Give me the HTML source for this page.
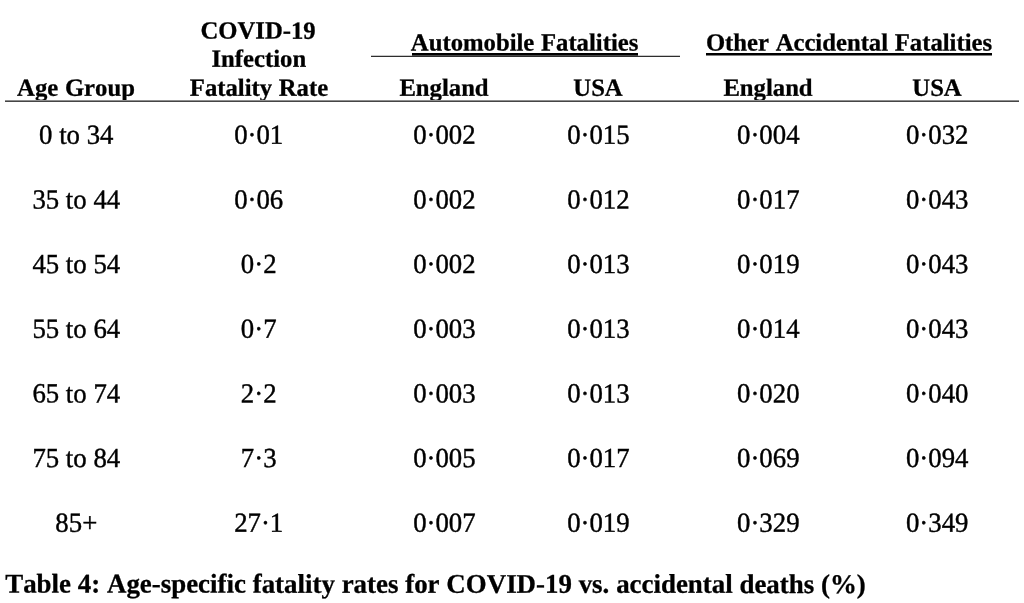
<!DOCTYPE html>
<html lang="en">
<head>
<meta charset="utf-8">
<title>Table 4</title>
<style>
html,body{margin:0;padding:0;background:#fff;}
body{width:1024px;height:603px;position:relative;overflow:hidden;font-family:"Liberation Serif","Times New Roman",Times,serif;color:#000;font-kerning:none;}
.t{position:absolute;left:0;top:0;white-space:nowrap;line-height:1;transform-origin:50% 0;}
.h{font-weight:bold;word-spacing:0.5px;font-size:24.7px;-webkit-text-stroke:0.3px #000;}
.d{font-size:26.8px;-webkit-text-stroke:0.4px #000;}
.ln{position:absolute;height:2px;background:linear-gradient(#8e8e8e 50%,#464646 50%);}
.ln2{position:absolute;height:2px;background:linear-gradient(#c8c8c8 50%,#2d2d2d 50%);}
.ul{position:absolute;height:3px;background:linear-gradient(#000 66.6%,#808080 66.6%);}
.ul.a{background:linear-gradient(#000 66.6%,#484848 66.6%);}
.cap{word-spacing:0.1px;position:absolute;left:0;top:0;white-space:nowrap;line-height:1;transform-origin:50% 0;-webkit-text-stroke:0.3px #000;font-weight:bold;font-size:26.9px;}
</style>
</head>
<body>

<div class="t h" style="transform:translate(76.00px,75.81px) translateX(-50%) skewY(0.03deg);">Age Group</div>
<div class="t h" style="transform:translate(258.10px,18.61px) translateX(-50%) skewY(0.03deg);">COVID-19</div>
<div class="t h" style="transform:translate(258.80px,46.81px) translateX(-50%) skewY(0.03deg);">Infection</div>
<div class="t h" style="transform:translate(259.00px,75.81px) translateX(-50%) skewY(0.03deg);">Fatality Rate</div>
<div class="t h" style="transform:translate(524.60px,30.46px) translateX(-50%) skewY(0.03deg);">Automobile Fatalities</div>
<div class="t h" style="transform:translate(849.00px,30.46px) translateX(-50%) skewY(0.03deg);">Other Accidental Fatalities</div>
<div class="t h" style="transform:translate(444.00px,75.81px) translateX(-50%) skewY(0.03deg);">England</div>
<div class="t h" style="transform:translate(598.00px,75.81px) translateX(-50%) skewY(0.03deg);">USA</div>
<div class="t h" style="transform:translate(768.00px,75.81px) translateX(-50%) skewY(0.03deg);">England</div>
<div class="t h" style="transform:translate(937.00px,75.81px) translateX(-50%) skewY(0.03deg);">USA</div>
<div class="ln2" style="left:371px;top:55px;width:309px;"></div>
<div class="ul a" style="left:412px;top:53px;width:226px;"></div>
<div class="ul" style="left:706px;top:53px;width:286px;"></div>
<div class="ln" style="left:5px;top:100px;width:1014px;"></div>
<div class="t d" style="transform:translate(76.30px,121.24px) translateX(-50%) skewY(0.03deg) scaleY(1.025);">0 to 34</div>
<div class="t d" style="transform:translate(258.70px,121.24px) translateX(-50%) skewY(0.03deg) scaleY(1.025);">0·01</div>
<div class="t d" style="transform:translate(444.40px,121.24px) translateX(-50%) skewY(0.03deg) scaleY(1.025);">0·002</div>
<div class="t d" style="transform:translate(598.40px,121.24px) translateX(-50%) skewY(0.03deg) scaleY(1.025);">0·015</div>
<div class="t d" style="transform:translate(768.30px,121.24px) translateX(-50%) skewY(0.03deg) scaleY(1.025);">0·004</div>
<div class="t d" style="transform:translate(937.20px,121.24px) translateX(-50%) skewY(0.03deg) scaleY(1.025);">0·032</div>
<div class="t d" style="transform:translate(76.30px,185.89px) translateX(-50%) skewY(0.03deg) scaleY(1.025);">35 to 44</div>
<div class="t d" style="transform:translate(258.70px,185.89px) translateX(-50%) skewY(0.03deg) scaleY(1.025);">0·06</div>
<div class="t d" style="transform:translate(444.40px,185.89px) translateX(-50%) skewY(0.03deg) scaleY(1.025);">0·002</div>
<div class="t d" style="transform:translate(598.40px,185.89px) translateX(-50%) skewY(0.03deg) scaleY(1.025);">0·012</div>
<div class="t d" style="transform:translate(768.30px,185.89px) translateX(-50%) skewY(0.03deg) scaleY(1.025);">0·017</div>
<div class="t d" style="transform:translate(937.20px,185.89px) translateX(-50%) skewY(0.03deg) scaleY(1.025);">0·043</div>
<div class="t d" style="transform:translate(76.30px,250.54px) translateX(-50%) skewY(0.03deg) scaleY(1.025);">45 to 54</div>
<div class="t d" style="transform:translate(258.70px,250.54px) translateX(-50%) skewY(0.03deg) scaleY(1.025);">0·2</div>
<div class="t d" style="transform:translate(444.40px,250.54px) translateX(-50%) skewY(0.03deg) scaleY(1.025);">0·002</div>
<div class="t d" style="transform:translate(598.40px,250.54px) translateX(-50%) skewY(0.03deg) scaleY(1.025);">0·013</div>
<div class="t d" style="transform:translate(768.30px,250.54px) translateX(-50%) skewY(0.03deg) scaleY(1.025);">0·019</div>
<div class="t d" style="transform:translate(937.20px,250.54px) translateX(-50%) skewY(0.03deg) scaleY(1.025);">0·043</div>
<div class="t d" style="transform:translate(76.30px,315.19px) translateX(-50%) skewY(0.03deg) scaleY(1.025);">55 to 64</div>
<div class="t d" style="transform:translate(258.70px,315.19px) translateX(-50%) skewY(0.03deg) scaleY(1.025);">0·7</div>
<div class="t d" style="transform:translate(444.40px,315.19px) translateX(-50%) skewY(0.03deg) scaleY(1.025);">0·003</div>
<div class="t d" style="transform:translate(598.40px,315.19px) translateX(-50%) skewY(0.03deg) scaleY(1.025);">0·013</div>
<div class="t d" style="transform:translate(768.30px,315.19px) translateX(-50%) skewY(0.03deg) scaleY(1.025);">0·014</div>
<div class="t d" style="transform:translate(937.20px,315.19px) translateX(-50%) skewY(0.03deg) scaleY(1.025);">0·043</div>
<div class="t d" style="transform:translate(76.30px,379.84px) translateX(-50%) skewY(0.03deg) scaleY(1.025);">65 to 74</div>
<div class="t d" style="transform:translate(258.70px,379.84px) translateX(-50%) skewY(0.03deg) scaleY(1.025);">2·2</div>
<div class="t d" style="transform:translate(444.40px,379.84px) translateX(-50%) skewY(0.03deg) scaleY(1.025);">0·003</div>
<div class="t d" style="transform:translate(598.40px,379.84px) translateX(-50%) skewY(0.03deg) scaleY(1.025);">0·013</div>
<div class="t d" style="transform:translate(768.30px,379.84px) translateX(-50%) skewY(0.03deg) scaleY(1.025);">0·020</div>
<div class="t d" style="transform:translate(937.20px,379.84px) translateX(-50%) skewY(0.03deg) scaleY(1.025);">0·040</div>
<div class="t d" style="transform:translate(76.30px,444.49px) translateX(-50%) skewY(0.03deg) scaleY(1.025);">75 to 84</div>
<div class="t d" style="transform:translate(258.70px,444.49px) translateX(-50%) skewY(0.03deg) scaleY(1.025);">7·3</div>
<div class="t d" style="transform:translate(444.40px,444.49px) translateX(-50%) skewY(0.03deg) scaleY(1.025);">0·005</div>
<div class="t d" style="transform:translate(598.40px,444.49px) translateX(-50%) skewY(0.03deg) scaleY(1.025);">0·017</div>
<div class="t d" style="transform:translate(768.30px,444.49px) translateX(-50%) skewY(0.03deg) scaleY(1.025);">0·069</div>
<div class="t d" style="transform:translate(937.20px,444.49px) translateX(-50%) skewY(0.03deg) scaleY(1.025);">0·094</div>
<div class="t d" style="transform:translate(76.30px,509.14px) translateX(-50%) skewY(0.03deg) scaleY(1.025);">85+</div>
<div class="t d" style="transform:translate(258.70px,509.14px) translateX(-50%) skewY(0.03deg) scaleY(1.025);">27·1</div>
<div class="t d" style="transform:translate(444.40px,509.14px) translateX(-50%) skewY(0.03deg) scaleY(1.025);">0·007</div>
<div class="t d" style="transform:translate(598.40px,509.14px) translateX(-50%) skewY(0.03deg) scaleY(1.025);">0·019</div>
<div class="t d" style="transform:translate(768.30px,509.14px) translateX(-50%) skewY(0.03deg) scaleY(1.025);">0·329</div>
<div class="t d" style="transform:translate(937.20px,509.14px) translateX(-50%) skewY(0.03deg) scaleY(1.025);">0·349</div>
<div class="cap" style="transform:translate(5.2px,570.72px) skewY(0.03deg);">Table 4: Age-specific fatality rates for COVID-19 vs. accidental deaths (%)</div>
</body>
</html>
